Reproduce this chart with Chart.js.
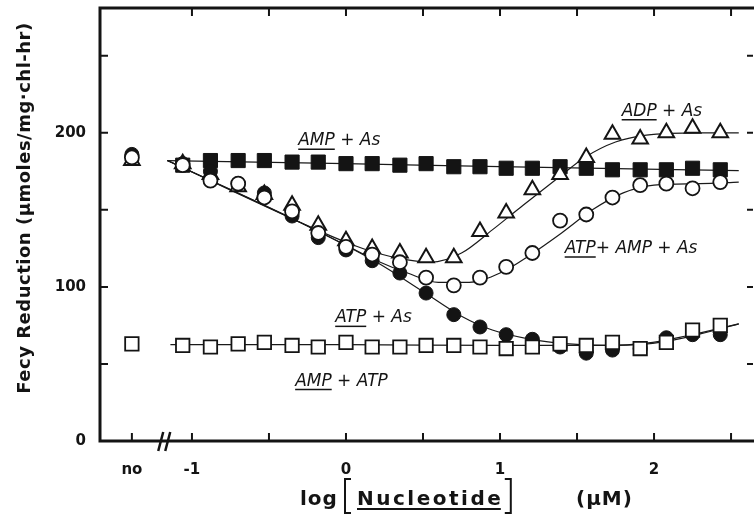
<!DOCTYPE html>
<html>
<head>
<meta charset="utf-8">
<script src="https://cdn.jsdelivr.net/npm/chart.js@4.4.0/dist/chart.umd.min.js"></script>
<style>
  html, body { margin: 0; padding: 0; background: #fff; }
</style>
</head>
<body>
<canvas id="myChart" width="754" height="528"></canvas>
<script>
// x = log [Nucleotide] (uM); the "no nucleotide" control sits left of the axis break
var noX = -1.39;
var logConc = [-1.06, -0.88, -0.70, -0.53, -0.35, -0.18, 0, 0.17, 0.35, 0.52, 0.70,
               0.87, 1.04, 1.21, 1.39, 1.56, 1.73, 1.91, 2.08, 2.25, 2.43];

// measured points (Fecy reduction, umoles/mg chl-hr)
var ampAs     = [179, 182, 182, 182, 181, 181, 180, 180, 179, 180, 178, 178, 177, 177, 178, 177, 176, 176, 176, 177, 176];
var adpAs     = [180, 173, 165, 160, 153, 140, 130, 125, 122, 119, 119, 136, 148, 163, 173, 184, 199, 196, 200, 203, 200];
var atpAmpAs  = [179, 169, 167, 158, 149, 135, 126, 121, 116, 106, 101, 106, 113, 122, 143, 147, 158, 166, 167, 164, 168];
var atpAs     = [180, 175, 167, 161, 146, 132, 124, 117, 109, 96, 82, 74, 69, 66, 61, 57, 59, 60, 67, 69, 69];
var ampAtp    = [62, 61, 63, 64, 62, 61, 64, 61, 61, 62, 62, 61, 60, 61, 63, 62, 64, 60, 64, 72, 75];

// controls without nucleotide
var noAdpAs = 182;
var noAtpAmpAs = 184;
var noAtpAs = 186;
var noAmpAtp = 63;

// hand-drawn fit curves
var ampAsFitX = [-1.16, 0, 1.0, 2.55];
var ampAsFitY = [182, 180, 178, 175.5];
var adpFitX = [-1.16, -0.3, 0, 0.2, 0.4, 0.55, 0.75, 0.95, 1.15, 1.38, 1.55, 1.75, 1.95, 2.3, 2.55];
var adpFitY = [182, 142, 129, 122, 117.5, 116, 122, 137, 153, 171, 184, 194, 198.5, 200, 200];
var atpAmpFitX = [-1.16, -0.3, 0, 0.2, 0.4, 0.6, 0.8, 1.0, 1.2, 1.4, 1.6, 1.8, 2.0, 2.3, 2.55];
var atpAmpFitY = [182, 142, 127, 117, 109, 103, 103, 109, 121, 135, 150, 161, 166, 167, 168];
var atpFitX = [-1.16, -0.3, 0.2, 0.5, 0.75, 0.95, 1.2, 1.45, 1.7, 1.9, 2.1, 2.3, 2.55];
var atpFitY = [182, 142, 116, 97, 81, 72, 66, 63, 62, 62.5, 65, 69.5, 76];
var ampAtpFitX = [-1.14, 0, 1.0, 1.7, 1.95, 2.2, 2.55];
var ampAtpFitY = [62.5, 62.5, 62, 62, 63.5, 68, 76];

// axis ticks
var xTickValues = [noX, -1, -0.5, 0, 0.5, 1, 1.5, 2, 2.5];
var xTickLabels = ['no', '-1', '', '0', '', '1', '', '2', ''];
var yTickValues = [0, 50, 100, 150, 200, 250];
var yTickLabels = ['0', '', '100', '', '200', ''];

// curve labels: underlined part, rest, anchor in data coords
var curveLabels = [
  { u: 'AMP', rest: ' + As', x: -0.31, y: 192 },
  { u: 'ADP', rest: ' + As', x: 1.79, y: 211 },
  { u: 'ATP', rest: '+ AMP + As', x: 1.42, y: 122 },
  { u: 'ATP', rest: ' + As', x: -0.07, y: 77 },
  { u: 'AMP', rest: ' + ATP', x: -0.33, y: 36 }
];

function pts(xs, ys) {
  return xs.map(function (x, i) { return { x: x, y: ys[i] }; });
}
function withNo(noVal, ys) {
  var d = noVal == null ? [] : [{ x: noX, y: noVal }];
  return d.concat(pts(logConc, ys));
}
function fitLine(xs, ys) {
  return {
    data: pts(xs, ys), showLine: true, pointRadius: 0, borderColor: '#1a1a1a',
    borderWidth: 1.2, cubicInterpolationMode: 'monotone', order: 10
  };
}
function noPad(s) {
  s.paddingTop = 0; s.paddingBottom = 0; s.paddingLeft = 0; s.paddingRight = 0;
}
var ink = '#141414';

var overlay = {
  id: 'overlay',
  afterDraw: function (chart) {
    var c = chart.ctx, a = chart.chartArea, xs = chart.scales.x, ys = chart.scales.y;
    c.save();
    c.strokeStyle = ink;
    c.fillStyle = ink;
    // frame
    c.lineWidth = 3;
    c.beginPath();
    c.moveTo(a.right + 2, a.bottom); c.lineTo(a.left, a.bottom); c.lineTo(a.left, a.top); c.lineTo(a.right + 2, a.top);
    c.stroke();
    // inward tick marks
    c.lineWidth = 2;
    c.beginPath();
    xTickValues.forEach(function (v) {
      var px = xs.getPixelForValue(v);
      c.moveTo(px, a.bottom); c.lineTo(px, a.bottom - 8);
      if (v !== noX) { c.moveTo(px, a.top); c.lineTo(px, a.top + 8); }
    });
    yTickValues.forEach(function (v) {
      var py = ys.getPixelForValue(v);
      c.moveTo(a.left, py); c.lineTo(a.left + 8, py);
      c.moveTo(a.right - 1, py); c.lineTo(a.right - 7, py);
    });
    c.stroke();
    // axis break
    var bx = xs.getPixelForValue(-1.18);
    c.lineWidth = 2.5;
    c.beginPath();
    c.moveTo(bx - 6, a.bottom + 10); c.lineTo(bx - 1, a.bottom - 9);
    c.moveTo(bx + 1, a.bottom + 10); c.lineTo(bx + 6, a.bottom - 9);
    c.stroke();

    // curve labels
    c.font = 'italic 17px "DejaVu Sans"';
    c.textBaseline = 'alphabetic';
    c.textAlign = 'left';
    c.lineWidth = 1.5;
    curveLabels.forEach(function (l) {
      var px = xs.getPixelForValue(l.x), py = ys.getPixelForValue(l.y);
      c.fillText(l.u + l.rest, px, py);
      var w = c.measureText(l.u).width;
      c.beginPath(); c.moveTo(px, py + 4); c.lineTo(px + w, py + 4); c.stroke();
    });

    // y title
    c.save();
    c.translate(25, 208);
    c.rotate(-Math.PI / 2);
    c.font = 'bold 18px "DejaVu Sans"';
    c.letterSpacing = '0.5px';
    c.textAlign = 'center';
    c.textBaseline = 'middle';
    c.fillText('Fecy Reduction (\u03bcmoles/mg\u00b7chl-hr)', 0, 0);
    c.restore();

    // x title
    c.font = 'bold 20px "DejaVu Sans"';
    c.textBaseline = 'alphabetic';
    c.textAlign = 'left';
    var by = 505;
    c.letterSpacing = '1px';
    c.fillText('log', 300, by);
    c.fillText('(\u03bcM)', 576, by);
    c.letterSpacing = '2.5px';
    c.fillText('Nucleotide', 357, by);
    var nw = c.measureText('Nucleotide').width - 2.5;
    c.lineWidth = 1.8;
    c.beginPath(); c.moveTo(357, by + 4); c.lineTo(357 + nw, by + 4); c.stroke();
    // brackets
    c.lineWidth = 2;
    c.beginPath();
    c.moveTo(351, 479); c.lineTo(345, 479); c.lineTo(345, 513); c.lineTo(351, 513);
    c.moveTo(357 + nw + 4, 479); c.lineTo(357 + nw + 10, 479); c.lineTo(357 + nw + 10, 513); c.lineTo(357 + nw + 4, 513);
    c.stroke();
    c.restore();
  }
};

var ctx = document.getElementById('myChart');
var myChart = new Chart(ctx, {
  type: 'scatter',
  data: {
    datasets: [
      fitLine(ampAsFitX, ampAsFitY),
      fitLine(adpFitX, adpFitY),
      fitLine(atpAmpFitX, atpAmpFitY),
      fitLine(atpFitX, atpFitY),
      fitLine(ampAtpFitX, ampAtpFitY),
      {
        label: 'AMP + As', data: withNo(null, ampAs), pointStyle: 'rect', pointRadius: 10,
        backgroundColor: ink, borderColor: ink, borderWidth: 1, order: 5
      },
      {
        label: 'ADP + As', data: withNo(noAdpAs, adpAs), pointStyle: 'triangle', pointRadius: 9,
        backgroundColor: '#fff', borderColor: ink, borderWidth: 2, order: 4
      },
      {
        label: 'ATP + As', data: withNo(noAtpAs, atpAs), pointStyle: 'circle', pointRadius: 7,
        backgroundColor: ink, borderColor: ink, borderWidth: 1, order: 3
      },
      {
        label: 'ATP + AMP + As', data: withNo(noAtpAmpAs, atpAmpAs), pointStyle: 'circle', pointRadius: 7,
        backgroundColor: '#fff', borderColor: ink, borderWidth: 1.8, order: 2
      },
      {
        label: 'AMP + ATP', data: withNo(noAmpAtp, ampAtp), pointStyle: 'rect', pointRadius: 9.5,
        backgroundColor: '#fff', borderColor: ink, borderWidth: 1.8, order: 1
      }
    ]
  },
  options: {
    responsive: false,
    animation: false,
    layout: { autoPadding: false, padding: { top: 8, right: 0, left: 0, bottom: 0 } },
    plugins: { legend: { display: false }, tooltip: { enabled: false } },
    scales: {
      x: {
        type: 'linear', min: -1.597, max: 2.649,
        grid: { display: false, drawTicks: false },
        border: { display: false },
        afterBuildTicks: function (s) { s.ticks = xTickValues.map(function (v) { return { value: v }; }); },
        afterFit: function (s) { s.height = 87; noPad(s); },
        ticks: {
          autoSkip: false, maxRotation: 0, padding: 20, color: ink,
          font: { family: 'DejaVu Sans', size: 15, weight: 'bold' },
          callback: function (v, i) { return xTickLabels[i]; }
        }
      },
      y: {
        type: 'linear', min: 0, max: 281,
        grid: { display: false, drawTicks: false },
        border: { display: false },
        afterBuildTicks: function (s) { s.ticks = yTickValues.map(function (v) { return { value: v }; }); },
        afterFit: function (s) { s.width = 100; noPad(s); },
        ticks: {
          padding: 14, color: ink,
          font: { family: 'DejaVu Sans', size: 15, weight: 'bold' },
          callback: function (v, i) { return yTickLabels[i]; }
        }
      }
    }
  },
  plugins: [overlay]
});
</script>
</body>
</html>
